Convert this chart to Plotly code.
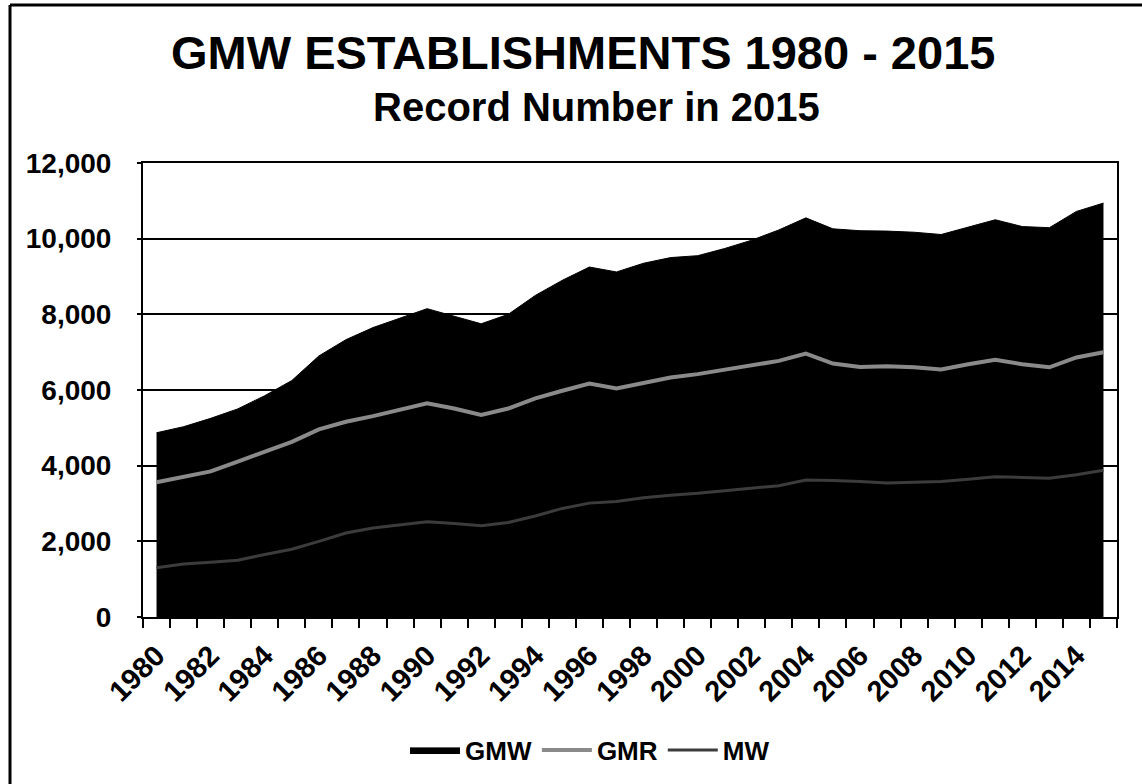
import plotly.graph_objects as go

years = list(range(1980, 2016))

gmw = [4870, 5030, 5250, 5500, 5850, 6250, 6900, 7330, 7650, 7900,
       8150, 7950, 7750, 8000, 8500, 8900, 9250, 9120, 9350, 9500,
       9550, 9740, 9960, 10230, 10550, 10260, 10210, 10200, 10170, 10110,
       10300, 10500, 10320, 10290, 10720, 10940]

gmr = [3560, 3710, 3850, 4110, 4370, 4630, 4960, 5160, 5310, 5470,
       5650, 5510, 5340, 5510, 5780, 5980, 6170, 6040, 6190, 6330,
       6420, 6540, 6650, 6770, 6960, 6700, 6610, 6630, 6600, 6540,
       6680, 6800, 6680, 6600, 6860, 7000]

mw = [1300, 1400, 1450, 1500, 1650, 1790, 2000, 2220, 2350, 2440,
      2520, 2470, 2410, 2500, 2670, 2870, 3010, 3050, 3150, 3220,
      3270, 3340, 3400, 3470, 3620, 3610, 3580, 3540, 3560, 3580,
      3640, 3710, 3690, 3670, 3760, 3880]

tick_years = list(range(1980, 2016, 2))
y_ticks = [0, 2000, 4000, 6000, 8000, 10000, 12000]

FONT = "Liberation Sans, Arial, sans-serif"

# pixel geometry of the plot area
L, R, T, B = 143, 1117, 163, 617
W, H = 1142, 784


def px(x):
    return (x - L) / (R - L)


def py(y):
    return (B - y) / (B - T)


fig = go.Figure()
fig.add_trace(go.Scatter(
    x=years, y=gmw, name="GMW", mode="lines", fill="tozeroy",
    fillcolor="#000000", line=dict(color="#000000", width=1),
))
fig.add_trace(go.Scatter(
    x=years, y=gmr, name="GMR", mode="lines",
    line=dict(color="#8a8a8a", width=4),
))
fig.add_trace(go.Scatter(
    x=years, y=mw, name="MW", mode="lines",
    line=dict(color="#3c3c3c", width=3),
))

fig.update_layout(
    width=W, height=H,
    margin=dict(l=L, r=W - R, t=T, b=H - B, autoexpand=False),
    paper_bgcolor="white", plot_bgcolor="white",
    font=dict(family=FONT, color="black", size=26, weight="bold"),
    showlegend=True,
    legend=dict(
        orientation="h", x=px(590), xanchor="center", y=py(750), yanchor="middle",
        font=dict(family=FONT, size=26, color="black", weight="bold"),
        itemwidth=50, tracegroupgap=0, bgcolor="rgba(0,0,0,0)",
    ),
    annotations=[
        dict(text="GMW ESTABLISHMENTS 1980 - 2015", x=px(583), y=py(52),
             xref="paper", yref="paper", showarrow=False,
             xanchor="center", yanchor="middle",
             font=dict(family=FONT, size=47, color="black", weight="bold")),
        dict(text="Record Number in 2015", x=px(596), y=py(107),
             xref="paper", yref="paper", showarrow=False,
             xanchor="center", yanchor="middle",
             font=dict(family=FONT, size=40, color="black", weight="bold")),
    ],
    shapes=[
        # outer frame (top and left edges visible in the scan)
        dict(type="line", xref="paper", yref="paper",
             x0=px(10), x1=px(1150), y0=py(5), y1=py(5),
             line=dict(color="black", width=3)),
        dict(type="line", xref="paper", yref="paper",
             x0=px(10), x1=px(10), y0=py(5), y1=py(790),
             line=dict(color="black", width=3)),
    ],
)

fig.update_xaxes(
    range=[1979.5, 2015.5],
    tickmode="array", tickvals=tick_years, ticktext=[str(y) for y in tick_years],
    tickangle=-45, ticks="",
    tickfont=dict(family=FONT, size=29, color="black", weight="bold"),
    showgrid=False, zeroline=False,
    showline=True, linecolor="black", linewidth=2, mirror=True,
    minor=dict(tickmode="linear", tick0=1979.5, dtick=1, ticks="outside",
               ticklen=9, tickwidth=2, tickcolor="black", showgrid=False),
    ticklabelstandoff=8,
)

fig.update_yaxes(
    range=[0, 12000],
    tickmode="array", tickvals=y_ticks, ticktext=[f"{v:,}" for v in y_ticks],
    ticks="outside", ticklen=4, tickwidth=2, tickcolor="black",
    tickfont=dict(family=FONT, size=28, color="black", weight="bold"),
    showgrid=True, gridcolor="black", gridwidth=2,
    zeroline=False,
    showline=True, linecolor="black", linewidth=2, mirror=True,
    ticklabelstandoff=20,
)

fig.write_html("out.html")
